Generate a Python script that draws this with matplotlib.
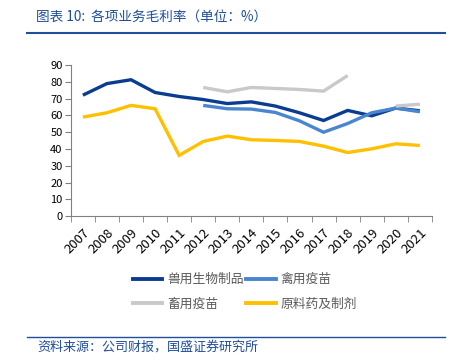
import numpy as np
import matplotlib
matplotlib.use("Agg")
import matplotlib.pyplot as plt
from matplotlib.lines import Line2D

plt.rcParams['font.family'] = ['Noto Sans CJK SC', 'DejaVu Sans']

years = ['2007', '2008', '2009', '2010', '2011', '2012', '2013', '2014',
         '2015', '2016', '2017', '2018', '2019', '2020', '2021']
nan = np.nan
# 兽用生物制品
vet_bio = [72.1, 79.0, 81.3, 73.7, 71.3, 69.5, 67.1, 68.1, 65.6, 61.6, 57.0, 63.0, 59.8, 64.4, 62.8]
# 禽用疫苗
poultry_vac = [nan, nan, nan, nan, nan, 66.0, 64.0, 63.8, 61.8, 56.8, 50.0, 55.2, 61.6, 64.4, 62.2]
# 畜用疫苗
livestock_vac = [nan, nan, nan, nan, nan, 76.7, 74.1, 76.7, 76.1, 75.5, 74.5, 83.8, nan, 65.6, 66.7]
# 原料药及制剂
api_prep = [59.0, 61.6, 66.0, 64.0, 36.2, 44.5, 47.7, 45.5, 45.1, 44.5, 41.7, 37.9, 40.1, 43.1, 42.1]

labels = ['兽用生物制品', '禽用疫苗', '畜用疫苗', '原料药及制剂']
colors = ['#0A3D91', '#4A86D0', '#C9C9C9', '#FFC000']
series = [vet_bio, poultry_vac, livestock_vac, api_prep]

title_color = '#1F4E9A'

fig = plt.figure(figsize=(4.57, 3.56), dpi=100)
ax = fig.add_axes([0.155, 0.393, 0.79, 0.424])

x = np.arange(len(years))
for vals, col in zip(series, colors):
    ax.plot(x, vals, color=col, lw=2.4, solid_capstyle='butt', solid_joinstyle='miter')

ax.set_xlim(-0.5, len(years) - 0.5)
ax.set_ylim(0, 90)
ax.set_yticks(range(0, 91, 10))
ax.set_xticks(x)
ax.set_xticklabels(years, rotation=45, ha='right', rotation_mode='anchor')
ax.set_xticks(np.arange(-0.5, len(years), 1), minor=True)
ax.tick_params(axis='x', which='major', length=0, pad=7, labelsize=9.5, colors='#000000')
ax.tick_params(axis='x', which='minor', length=4, direction='out', color='#808080')
ax.tick_params(axis='y', length=4, direction='out', color='#808080', labelsize=8, pad=2)
for s in ['top', 'right']:
    ax.spines[s].set_visible(False)
for s in ['left', 'bottom']:
    ax.spines[s].set_color('#808080')
    ax.spines[s].set_linewidth(0.8)

# legend
handles = [Line2D([0], [0], color=c, lw=2.8) for c in colors]
order = [0, 2, 1, 3]
leg = fig.legend([handles[i] for i in order], [labels[i] for i in order],
                 ncol=2, loc='center', bbox_to_anchor=(0.536, 0.18), frameon=False,
                 fontsize=9.2, handlelength=2.3, handletextpad=0.4, columnspacing=0.2,
                 labelspacing=0.9)
for t in leg.get_texts():
    t.set_color('#595959')

# title and source
fig.text(0.079, 0.952, '图表 10:  各项业务毛利率（单位：%）', fontsize=9.8, color=title_color,
         ha='left', va='center', style='italic')
fig.add_artist(Line2D([0.059, 0.974], [0.906, 0.906], color=title_color, lw=1.5,
                      transform=fig.transFigure))
fig.add_artist(Line2D([0.059, 0.974], [0.053, 0.053], color=title_color, lw=1.0,
                      transform=fig.transFigure))
fig.text(0.081, 0.025, '资料来源：公司财报，国盛证券研究所', fontsize=9.4, color=title_color,
         ha='left', va='center', style='italic')

fig.savefig('out.png', dpi=100)
